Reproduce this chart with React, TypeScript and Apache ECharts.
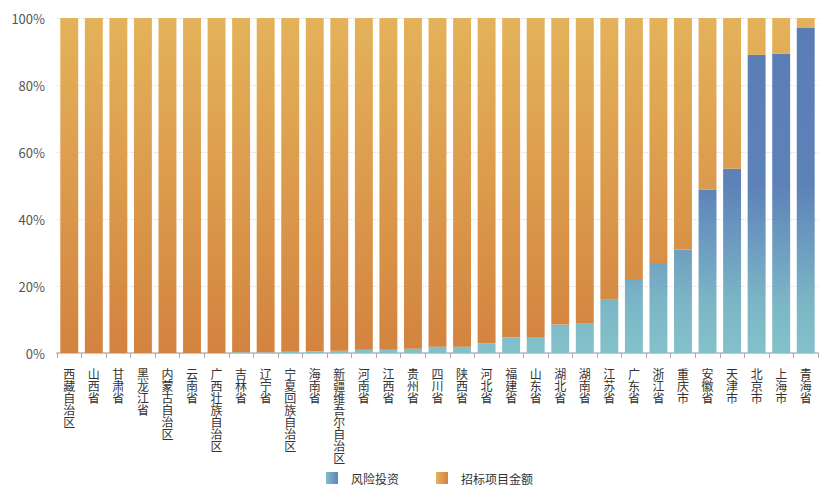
import React, { useEffect, useRef } from "react";
import * as echarts from "echarts";

const provinces = [
  "西藏自治区", "山西省", "甘肃省", "黑龙江省", "内蒙古自治区", "云南省", "广西壮族自治区",
  "吉林省", "辽宁省", "宁夏回族自治区", "海南省", "新疆维吾尔自治区", "河南省", "江西省",
  "贵州省", "四川省", "陕西省", "河北省", "福建省", "山东省", "湖北省", "湖南省", "江苏省",
  "广东省", "浙江省", "重庆市", "安徽省", "天津市", "北京市", "上海市", "青海省",
];

// share of 风险投资 (%)
const ventureShare = [
  0, 0, 0, 0, 0, 0, 0,
  0.2, 0.2, 0.4, 0.5, 0.7, 1.0, 1.0,
  1.3, 1.9, 1.9, 2.9, 4.6, 4.8, 8.5, 8.7, 15.9,
  22.1, 26.9, 30.9, 48.8, 55.0, 89.0, 89.3, 97.0,
];

// share of 招标项目金额 (%)
const tenderShare = [
  100, 100, 100, 100, 100, 100, 100,
  99.8, 99.8, 99.6, 99.5, 99.3, 99.0, 99.0,
  98.7, 98.1, 98.1, 97.1, 95.4, 95.2, 91.5, 91.3, 84.1,
  77.9, 73.1, 69.1, 51.2, 45.0, 11.0, 10.7, 3.0,
];

const yTicks = [0, 20, 40, 60, 80, 100];
const seriesNames = ["风险投资", "招标项目金额"];

export default function App() {
  const ref = useRef<HTMLDivElement>(null);
  useEffect(() => {
    if (!ref.current) return;
    const chart = echarts.init(ref.current, null, { renderer: "svg" });
    const top = 18;
    const bottom = 353;
    const blueGrad = new echarts.graphic.LinearGradient(0, top, 0, bottom, [
      { offset: 0, color: "#5a7cb5" },
      { offset: 0.5, color: "#5d82b8" },
      { offset: 0.85, color: "#7cb6c6" },
      { offset: 1, color: "#83c1ca" },
    ], true);
    const orangeGrad = new echarts.graphic.LinearGradient(0, top, 0, bottom, [
      { offset: 0, color: "#e4b25a" },
      { offset: 1, color: "#d3833f" },
    ], true);
    const blueLegend = new echarts.graphic.LinearGradient(0, 0, 1, 0, [
      { offset: 0, color: "#83bccb" },
      { offset: 1, color: "#5c84bb" },
    ]);
    const orangeLegend = new echarts.graphic.LinearGradient(0, 0, 1, 0, [
      { offset: 0, color: "#e6b45c" },
      { offset: 1, color: "#d3833f" },
    ]);
    chart.setOption({
      animation: false,
      textStyle: { fontFamily: "'Noto Sans CJK SC', 'Noto Sans', sans-serif" },
      grid: { left: 57, right: 10, top: top, bottom: 486 - bottom },
      legend: {
        top: 472,
        left: 326,
        padding: 0,
        itemWidth: 12,
        itemHeight: 12,
        itemGap: 37,
        icon: "rect",
        formatter: "{t|{name}}",
        textStyle: {
          color: "#333",
          fontSize: 12,
          rich: { t: { color: "#333", fontSize: 12, padding: [0, 0, 0, 8] } },
        },
        data: [
          { name: seriesNames[0], itemStyle: { color: blueLegend } },
          { name: seriesNames[1], itemStyle: { color: orangeLegend } },
        ],
      },
      xAxis: {
        type: "category",
        data: provinces,
        axisLine: { lineStyle: { color: "#c8c8c8", width: 2 } },
        axisTick: { show: true, length: 5, lineStyle: { color: "#aaa" } },
        axisLabel: {
          interval: 0,
          color: "#333",
          fontSize: 12,
          lineHeight: 12,
          margin: 14,
          verticalAlign: "top",
          formatter: (v: string) => v.split("").join("\n"),
        },
      },
      yAxis: {
        type: "value",
        min: yTicks[0],
        max: yTicks[yTicks.length - 1],
        interval: 20,
        axisLine: { show: false },
        axisTick: { show: false },
        axisLabel: { formatter: "{value}%", color: "#555", fontSize: 13, margin: 12 },
        splitLine: { lineStyle: { color: "#d8dde6", type: "dotted" } },
      },
      series: [
        {
          name: seriesNames[0],
          type: "bar",
          stack: "total",
          data: ventureShare,
          barWidth: "73%",
          itemStyle: { color: blueGrad },
        },
        {
          name: seriesNames[1],
          type: "bar",
          stack: "total",
          data: tenderShare,
          barWidth: "73%",
          itemStyle: { color: orangeGrad },
        },
      ],
    });
    return () => chart.dispose();
  }, []);
  return (
    <div
      ref={ref}
      style={{ position: "fixed", left: 0, top: 0, width: 828, height: 486, background: "#fff" }}
    />
  );
}
